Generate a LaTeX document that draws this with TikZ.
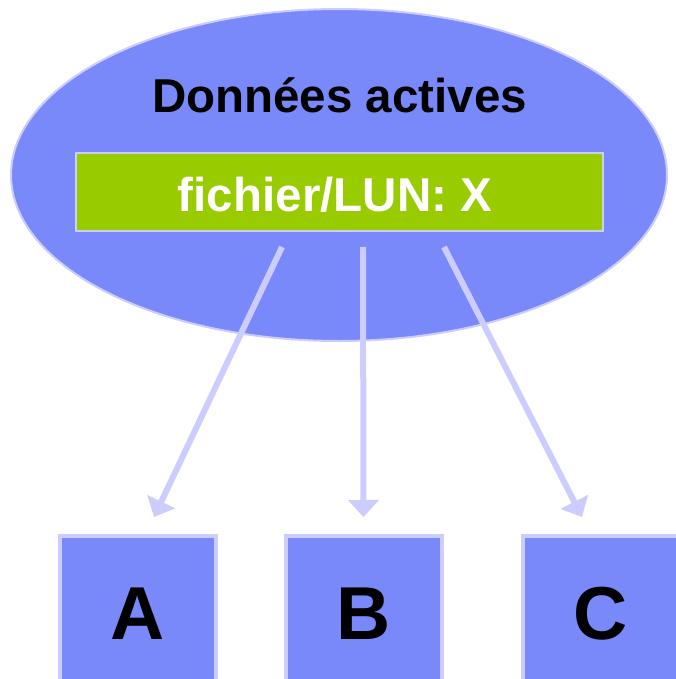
\documentclass[tikz,border=0pt]{standalone}
\usepackage{fontspec}
\setmainfont{Liberation Sans}
\usetikzlibrary{calc}
\usetikzlibrary{arrows.meta}
\usetikzlibrary{shapes.geometric}
\definecolor{myblue}{RGB}{122,137,250}
\definecolor{mylav}{RGB}{204,204,255}
\definecolor{mygreen}{RGB}{153,204,0}
\tikzset{%
  myedge/.style={-{Triangle[width=30pt,length=17pt]}, draw=mylav, line width=6pt},
  mynode/.style={rectangle, draw=mylav, fill=myblue, line width=4pt, minimum size=156pt, font=\fontsize{75}{80}\selectfont\bfseries}
}

\begin{document}
\begin{tikzpicture}[x=1pt,y=-1pt]
  \useasboundingbox (0,0) rectangle (676,679);
  \node[ellipse, draw=mylav, fill=myblue, line width=2pt, minimum width=656pt, minimum height=332pt, inner sep=0pt] (data) at (339,175) {};
  \node[anchor=base, font=\fontsize{47.5}{50}\selectfont\bfseries] (title) at (339.5,113) {Données actives};
  \node[rectangle, draw=mylav, fill=mygreen, line width=2pt, minimum width=527pt, minimum height=78pt] (lun) at (339.5,192) {};
  \node[anchor=base, text=white, font=\fontsize{47.5}{50}\selectfont\bfseries] (lunt) at (335,211) {fichier/LUN: X};
  \node[mynode] (a) at (138,614) {A};
  \node[mynode] (b) at (363.5,614) {B};
  \node[mynode] (c) at (601,614) {C};
  \coordinate (s1) at ($(lun.south)+(-57.5,15)$);
  \coordinate (s2) at ($(lun.south)+(23.5,15)$);
  \coordinate (s3) at ($(lun.south)+(104.5,15)$);
  \coordinate (e1) at ($(a.north)+(16,-17)$);
  \coordinate (e2) at ($(b.north)+(0,-17)$);
  \coordinate (e3) at ($(c.north)+(-19,-17)$);
  \draw [myedge] (s1) -- (e1);
  \draw [myedge] (s2) -- (e2);
  \draw [myedge] (s3) -- (e3);
\end{tikzpicture}
\end{document}
